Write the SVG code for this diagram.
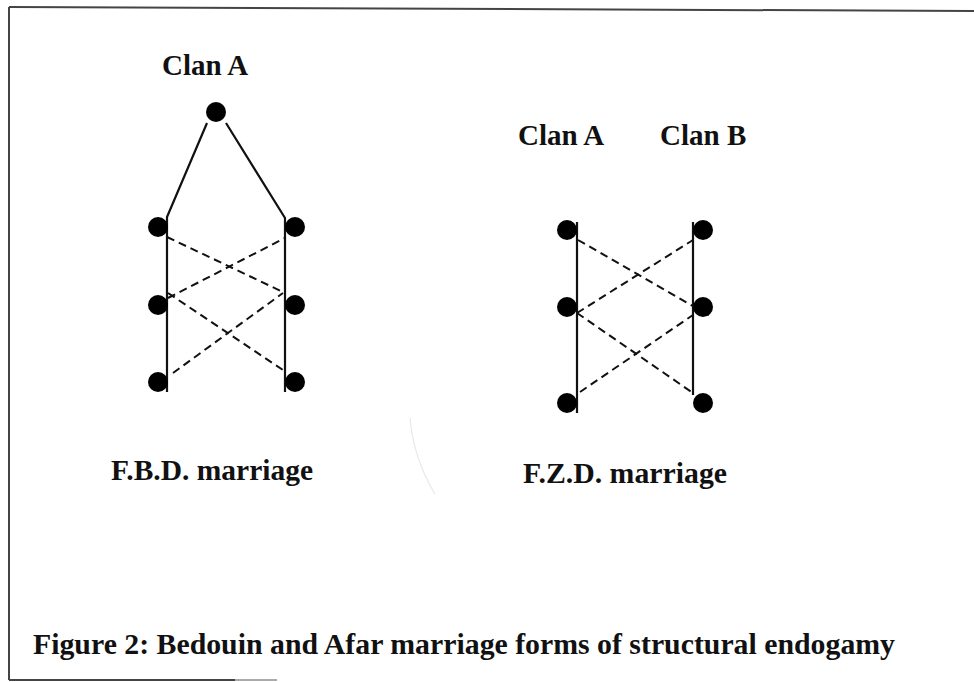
<svg xmlns="http://www.w3.org/2000/svg" width="974" height="682" viewBox="0 0 974 682">
<style>
.t{font-family:"Liberation Serif","Times New Roman",serif;font-weight:bold;fill:#111;}
.n{fill:#000;}
.s{stroke:#111;stroke-width:2.2;fill:none;}
.d{stroke:#111;stroke-width:2;fill:none;stroke-dasharray:8 5;}
.b{stroke:#444;stroke-width:2;fill:none;}
</style>
<rect width="974" height="682" fill="#fff"/>
<g id="frame">
<path class="b" d="M9,7 L974,11"/>
<path class="b" d="M9,7 L9,680"/>
<path class="b" d="M9,680 L235,680"/>
<path d="M235,680 L277,680" stroke="#aaa" stroke-width="2"/>
<path d="M410,418 Q414,460 435,494" stroke="#e8e8e8" stroke-width="1.2" fill="none"/>
</g>
<g id="connectors">
<path class="s" d="M207,123 L167,217 L167,392"/>
<path class="s" d="M226,123 L285,218 L285,392"/>
<path class="d" d="M167,237 L283,292"/>
<path class="d" d="M168,298 L285,238"/>
<path class="d" d="M168,293 L283,370"/>
<path class="d" d="M173,373 L283,293"/>
<path class="s" d="M577,222 L577,413"/>
<path class="s" d="M693,222 L693,395"/>
<path class="d" d="M578,240 L712,317"/>
<path class="d" d="M577,313 L693,240"/>
<path class="d" d="M577,313 L693,393"/>
<path class="d" d="M580,392 L693,315"/>
</g>
<g id="fbd-top"><circle class="n" cx="216" cy="112" r="10"/></g>
<g id="fbd-l1"><circle class="n" cx="158" cy="227" r="10"/></g>
<g id="fbd-l2"><circle class="n" cx="158" cy="305" r="10"/></g>
<g id="fbd-l3"><circle class="n" cx="158" cy="382" r="10"/></g>
<g id="fbd-r1"><circle class="n" cx="295" cy="227" r="10"/></g>
<g id="fbd-r2"><circle class="n" cx="295" cy="305" r="10"/></g>
<g id="fbd-r3"><circle class="n" cx="295" cy="382" r="10"/></g>
<g id="fzd-l1"><circle class="n" cx="567" cy="230" r="10"/></g>
<g id="fzd-l2"><circle class="n" cx="567" cy="307" r="10"/></g>
<g id="fzd-l3"><circle class="n" cx="567" cy="403" r="10"/></g>
<g id="fzd-r1"><circle class="n" cx="703" cy="230" r="10"/></g>
<g id="fzd-r2"><circle class="n" cx="703" cy="307" r="10"/></g>
<g id="fzd-r3"><circle class="n" cx="703" cy="403" r="10"/></g>
<g id="labels">
<text class="t" x="162" y="75" font-size="29">Clan A</text>
<text class="t" x="518" y="145" font-size="29">Clan A</text>
<text class="t" x="660" y="145" font-size="29">Clan B</text>
<text class="t" x="111" y="480" font-size="29" textLength="202" lengthAdjust="spacingAndGlyphs">F.B.D. marriage</text>
<text class="t" x="523" y="483" font-size="29" textLength="204" lengthAdjust="spacingAndGlyphs">F.Z.D. marriage</text>
<text class="t" x="33" y="654" font-size="29.5" textLength="862" lengthAdjust="spacingAndGlyphs">Figure 2: Bedouin and Afar marriage forms of structural endogamy</text>
</g>
</svg>
